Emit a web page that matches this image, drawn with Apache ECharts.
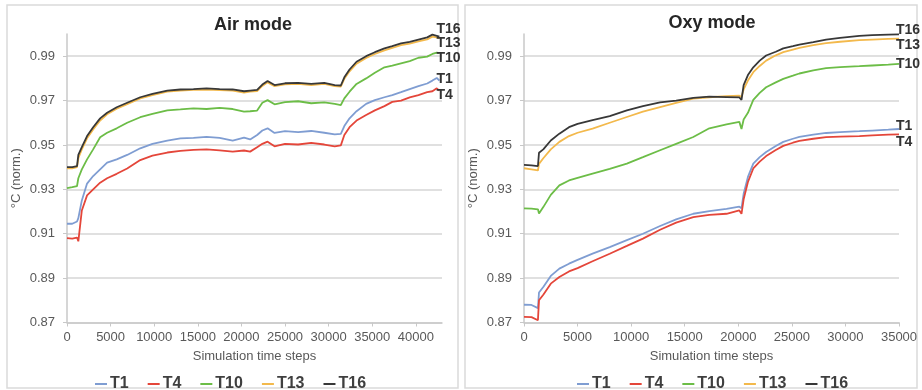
<!DOCTYPE html>
<html>
<head>
<meta charset="utf-8">
<script src="https://cdn.jsdelivr.net/npm/echarts@6/dist/echarts.min.js"></script>
<style>
  html, body { margin: 0; padding: 0; background: #ffffff; }
  #chart { width: 922px; height: 390px; }
</style>
</head>
<body>
<div id="chart"></div>
<script>
// Normalised temperatures at five probes, air vs oxy firing
const seriesNames = ['T1', 'T4', 'T10', 'T13', 'T16'];
const yTicks = [0.87, 0.89, 0.91, 0.93, 0.95, 0.97, 0.99];

// ---- Air mode ----
const airSteps = [0, 600, 1150, 1300, 1700, 2300, 3000, 3800, 4600, 5700, 6900, 8400, 9800, 11500, 13000, 14500, 16000, 17500, 19000, 20300, 21000, 21800, 22400, 23000, 23800, 25000, 26500, 28000, 29500, 30700, 31400, 31800, 32400, 33200, 34300, 35300, 36400, 37300, 38300, 39300, 40300, 41300, 41900, 42400, 42700];
const airT1 = [0.9145, 0.9145, 0.9155, 0.917, 0.925, 0.9326, 0.936, 0.939, 0.942, 0.9435, 0.9455, 0.9485, 0.9505, 0.952, 0.953, 0.9532, 0.9536, 0.9532, 0.952, 0.9533, 0.9525, 0.9545, 0.9565, 0.9575, 0.9554, 0.9562, 0.9558, 0.9563, 0.9555, 0.9548, 0.955, 0.9585, 0.962, 0.9652, 0.9685, 0.9702, 0.9715, 0.9725, 0.9738, 0.9752, 0.9765, 0.9777, 0.979, 0.9802, 0.979];
const airT4 = [0.908, 0.9078, 0.9083, 0.9066, 0.9205, 0.9273, 0.930, 0.933, 0.935, 0.937, 0.9394, 0.9432, 0.9452, 0.9466, 0.9473, 0.9478, 0.948, 0.9476, 0.947, 0.9475, 0.947, 0.949, 0.9505, 0.9515, 0.9494, 0.9505, 0.9502, 0.9509, 0.9502, 0.9494, 0.9498, 0.9545, 0.958, 0.961, 0.9635, 0.9656, 0.9675, 0.9694, 0.970, 0.9714, 0.9725, 0.9738, 0.9742, 0.9755, 0.9745];
const airT10 = [0.9305, 0.931, 0.9315, 0.935, 0.939, 0.9435, 0.948, 0.9535, 0.9555, 0.9575, 0.960, 0.9625, 0.964, 0.9656, 0.966, 0.9665, 0.9662, 0.9667, 0.9662, 0.965, 0.9652, 0.9655, 0.969, 0.9702, 0.9683, 0.9693, 0.9697, 0.9688, 0.9692, 0.9685, 0.968, 0.971, 0.974, 0.9775, 0.980, 0.9825, 0.985, 0.9858, 0.9868, 0.9878, 0.9893, 0.9898, 0.991, 0.9916, 0.9914];
const airT13 = [0.9395, 0.9395, 0.940, 0.944, 0.948, 0.953, 0.957, 0.961, 0.9638, 0.9663, 0.9684, 0.971, 0.9725, 0.974, 0.9745, 0.9748, 0.975, 0.9747, 0.9745, 0.9736, 0.974, 0.9743, 0.9766, 0.9782, 0.9765, 0.9773, 0.9775, 0.977, 0.9775, 0.9765, 0.9763, 0.9798, 0.9832, 0.9866, 0.9892, 0.991, 0.9926, 0.9937, 0.995, 0.9957, 0.9967, 0.9976, 0.9988, 0.9985, 0.998];
const airT16 = [0.940, 0.940, 0.9405, 0.9455, 0.949, 0.954, 0.958, 0.962, 0.9645, 0.967, 0.969, 0.9715, 0.973, 0.9745, 0.975, 0.9752, 0.9755, 0.9752, 0.975, 0.9742, 0.9745, 0.9748, 0.9772, 0.9788, 0.977, 0.9778, 0.978, 0.9775, 0.978, 0.977, 0.9768, 0.9805, 0.984, 0.9875, 0.990, 0.9918, 0.9935, 0.9945, 0.9958, 0.9965, 0.9975, 0.9985, 0.9997, 0.9992, 0.9988];

// ---- Oxy mode ----
const oxySteps = [0, 700, 1300, 1400, 1800, 2500, 3300, 4200, 5000, 6400, 8000, 9600, 11100, 12700, 14200, 15800, 17300, 18900, 20100, 20300, 20500, 20900, 21400, 22000, 22600, 23500, 24200, 25100, 25700, 27000, 28200, 29500, 31300, 32500, 34000, 35000];
const oxyT1 = [0.878, 0.8779, 0.8765, 0.8835, 0.886, 0.891, 0.8943, 0.8965, 0.8982, 0.901, 0.904, 0.9071, 0.910, 0.9135, 0.9165, 0.919, 0.9202, 0.9212, 0.9222, 0.9215, 0.928, 0.9356, 0.9416, 0.9445, 0.9468, 0.9495, 0.9514, 0.9528, 0.9536, 0.9547, 0.9554, 0.9558, 0.9562, 0.9565, 0.9569, 0.9572];
const oxyT4 = [0.8725, 0.8724, 0.871, 0.880, 0.8825, 0.8875, 0.8905, 0.893, 0.8945, 0.8976, 0.901, 0.9045, 0.9078, 0.9118, 0.915, 0.9175, 0.9185, 0.919, 0.9205, 0.919, 0.9255, 0.9333, 0.9394, 0.9425, 0.945, 0.9477, 0.9496, 0.951, 0.9518, 0.9528, 0.9535, 0.9538, 0.954, 0.9543, 0.9547, 0.9548];
const oxyT10 = [0.9214, 0.9213, 0.921, 0.9191, 0.922, 0.9275, 0.9318, 0.934, 0.9352, 0.9371, 0.9392, 0.9416, 0.9445, 0.9476, 0.9505, 0.9536, 0.9575, 0.9593, 0.9604, 0.9572, 0.9615, 0.9645, 0.9703, 0.9735, 0.976, 0.9782, 0.9798, 0.9812, 0.9822, 0.9836, 0.9846, 0.9851, 0.9855, 0.9858, 0.9862, 0.9865];
const oxyT13 = [0.9395, 0.939, 0.9385, 0.9415, 0.944, 0.948, 0.9514, 0.954, 0.9555, 0.9574, 0.960, 0.9626, 0.965, 0.9671, 0.969, 0.9709, 0.9715, 0.972, 0.9722, 0.9716, 0.975, 0.979, 0.9828, 0.9856, 0.988, 0.9904, 0.9918, 0.993, 0.9938, 0.995, 0.9959, 0.9965, 0.9972, 0.9975, 0.9978, 0.9979];
const oxyT16 = [0.941, 0.9408, 0.9405, 0.9465, 0.948, 0.952, 0.9551, 0.958, 0.9595, 0.9612, 0.963, 0.9656, 0.9675, 0.9692, 0.970, 0.9712, 0.9718, 0.9716, 0.9714, 0.9703, 0.977, 0.9815, 0.985, 0.988, 0.9903, 0.992, 0.9935, 0.9945, 0.9952, 0.9963, 0.9975, 0.9983, 0.9992, 0.9995, 0.9997, 0.9998];

const colors = { T1: '#7f9dd2', T4: '#e4463a', T10: '#6cbd47', T13: '#f3b94c', T16: '#383838' };
const FONT = '"Liberation Sans", Arial, sans-serif';

// label nudges so the end-of-line tags don't collide
const airLabelOffset = { T1: [-3, -1], T4: [-3, 5], T10: [-3, 5], T13: [-3, 5], T16: [-3, -8] };
const oxyLabelOffset = { T1: [-3, -3], T4: [-3, 8], T10: [-3, 0], T13: [-3, 6], T16: [-3, -4] };

function zip(xs, ys) { return xs.map((x, i) => [x, ys[i]]); }

const airValues = { T1: airT1, T4: airT4, T10: airT10, T13: airT13, T16: airT16 };
const oxyValues = { T1: oxyT1, T4: oxyT4, T10: oxyT10, T13: oxyT13, T16: oxyT16 };

function makeSeries(idx, steps, values, offsets) {
  return seriesNames.map(name => ({
    type: 'line',
    name: name,
    xAxisIndex: idx,
    yAxisIndex: idx,
    data: zip(steps, values[name]),
    showSymbol: false,
    symbol: 'none',
    color: colors[name],
    lineStyle: { width: 1.8, color: colors[name] },
    endLabel: {
      show: true,
      formatter: name,
      distance: 0,
      offset: offsets[name],
      fontFamily: FONT,
      fontWeight: 'bold',
      fontSize: 14,
      color: '#333333'
    },
    animation: false
  }));
}

function xAxis(idx, max, showMax) {
  return {
    type: 'value', gridIndex: idx, min: 0, max: max, interval: 5000,
    name: 'Simulation time steps', nameLocation: 'middle', nameGap: 27,
    nameTextStyle: { fontFamily: FONT, fontSize: 13, color: '#595959' },
    axisLine: { lineStyle: { color: '#c8c8c8', width: 1.5 } },
    axisTick: { show: true, length: 4, lineStyle: { color: '#c8c8c8' } },
    axisLabel: {
      fontFamily: FONT, fontSize: 13, color: '#595959', margin: 8, showMaxLabel: showMax,
      formatter: v => String(Math.round(v))
    },
    splitLine: { show: false }
  };
}

function yAxis(idx) {
  return {
    type: 'value', gridIndex: idx, min: 0.87, max: 1.0, interval: 0.02,
    name: '°C (norm.)', nameLocation: 'middle', nameGap: 44, nameRotate: 90,
    nameTextStyle: { fontFamily: FONT, fontSize: 13, color: '#595959' },
    axisLine: { show: true, lineStyle: { color: '#c8c8c8', width: 1.5 } },
    axisTick: { show: true, length: 4, lineStyle: { color: '#c8c8c8' } },
    axisLabel: {
      fontFamily: FONT, fontSize: 13, color: '#595959', margin: 12,
      showMaxLabel: false,
      formatter: v => (yTicks.some(t => Math.abs(t - v) < 1e-6) ? v.toFixed(2) : '')
    },
    splitLine: { show: true, showMaxLine: false, lineStyle: { color: '#d6d6d6', width: 1.5 } }
  };
}

function legend(left) {
  return {
    data: seriesNames, left: left, top: 371, icon: 'rect',
    itemWidth: 12, itemHeight: 2, itemGap: 19,
    textStyle: { fontFamily: FONT, fontWeight: 'bold', fontSize: 16, color: '#3f3f3f', padding: [0, 0, 0, -2] },
    selectedMode: false
  };
}

const chart = echarts.init(document.getElementById('chart'), null, { renderer: 'canvas' });
chart.setOption({
  backgroundColor: '#ffffff',
  animation: false,
  grid: [
    { left: 67, top: 34, width: 375, height: 288.5 },
    { left: 524, top: 34, width: 375, height: 288.5 }
  ],
  xAxis: [xAxis(0, 43000, false), xAxis(1, 35000, true)],
  yAxis: [yAxis(0), yAxis(1)],
  legend: [legend(90), legend(572)],
  graphic: [
    { type: 'rect', shape: { x: 7, y: 5, width: 451, height: 383 }, style: { fill: 'none', stroke: '#dadada', lineWidth: 1.5 }, silent: true, z: -1 },
    { type: 'rect', shape: { x: 465, y: 5, width: 452, height: 383 }, style: { fill: 'none', stroke: '#dadada', lineWidth: 1.5 }, silent: true, z: -1 },
    { type: 'text', x: 253, y: 25, style: { text: 'Air mode', fontFamily: FONT, fontWeight: 'bold', fontSize: 18, fill: '#262626', textAlign: 'center', textVerticalAlign: 'middle' } },
    { type: 'text', x: 712, y: 23, style: { text: 'Oxy mode', fontFamily: FONT, fontWeight: 'bold', fontSize: 18, fill: '#262626', textAlign: 'center', textVerticalAlign: 'middle' } }
  ],
  series: makeSeries(0, airSteps, airValues, airLabelOffset).concat(makeSeries(1, oxySteps, oxyValues, oxyLabelOffset))
});
</script>
</body>
</html>
